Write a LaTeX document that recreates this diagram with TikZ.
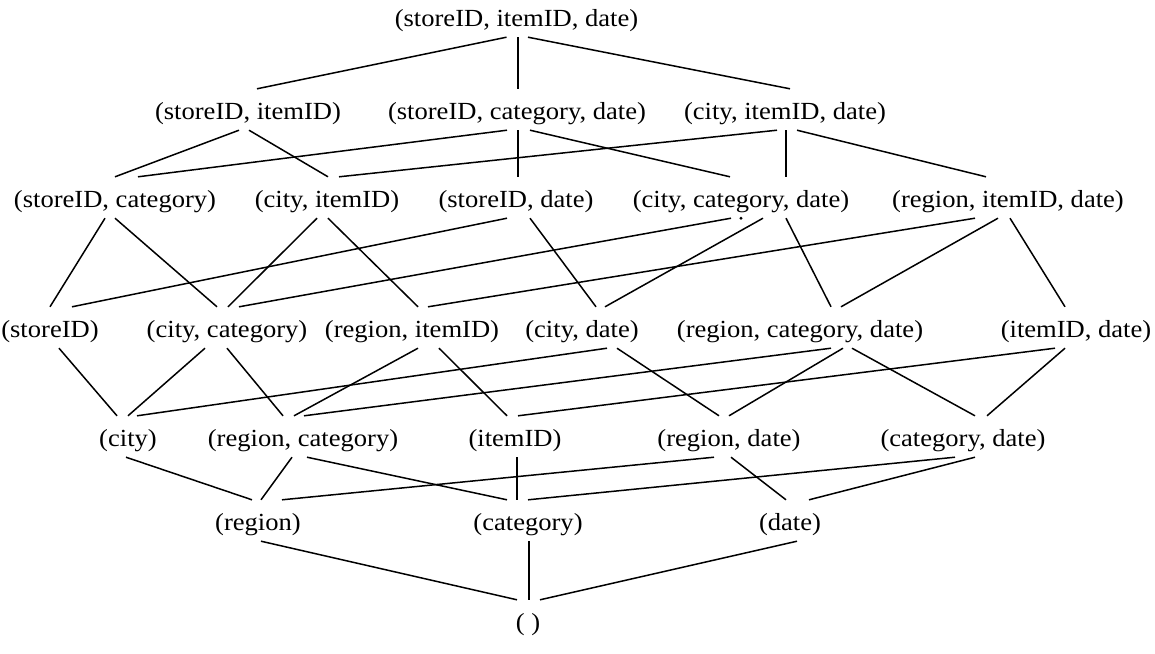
\documentclass[tikz,border=0pt]{standalone}
\usepackage{fontspec}
\setmainfont{Liberation Serif}[FakeStretch=1.08]
\begin{document}
\begin{tikzpicture}[x=1pt,y=-1pt,
  cube/.style={inner sep=0pt, anchor=base, text height=30pt, text depth=11pt,
    font=\fontsize{24.6}{28}\selectfont},
  link/.style={line width=1.5pt}]
\useasboundingbox (0,0) rectangle (1155,653);

% apex cuboid
\node[cube] (sid) at (516.5,26) {(storeID, itemID, date)};
% 2-D cuboids
\node[cube] (si)  at (248,119) {(storeID, itemID)};
\node[cube] (scd) at (517,119) {(storeID, category, date)};
\node[cube] (cid) at (785,119) {(city, itemID, date)};
% next level
\node[cube] (sc)  at (115,207) {(storeID, category)};
\node[cube] (ci)  at (327,207) {(city, itemID)};
\node[cube] (sd)  at (516,207) {(storeID, date)};
\node[cube] (ccd) at (741,207) {(city, category, date)};
\node[cube] (rid) at (1008,207) {(region, itemID, date)};
% middle level
\node[cube] (s)   at (50,337) {(storeID)};
\node[cube] (cc)  at (227,337) {(city, category)};
\node[cube] (ri)  at (412,337) {(region, itemID)};
\node[cube] (cd)  at (582,337) {(city, date)};
\node[cube] (rcd) at (800,337) {(region, category, date)};
\node[cube] (id)  at (1076,337) {(itemID, date)};
% lower level
\node[cube] (c)   at (128,446) {(city)};
\node[cube] (rc)  at (303,446) {(region, category)};
\node[cube] (i)   at (515,446) {(itemID)};
\node[cube] (rd)  at (729,446) {(region, date)};
\node[cube] (cad) at (963,446) {(category, date)};
% 1-D cuboids
\node[cube] (r)   at (258,530) {(region)};
\node[cube] (ca)  at (528,530) {(category)};
\node[cube] (d)   at (790,530) {(date)};
% base cuboid
\node[cube] (e)   at (528,630) {( )};

\newcommand\cuboidlink[4]{\draw[link] ([xshift=#2pt]#1.south) -- ([xshift=#4pt]#3.north);}

\cuboidlink{sid}{-10}{si}{9}
\cuboidlink{sid}{1.5}{scd}{1}
\cuboidlink{sid}{11.5}{cid}{5}

\cuboidlink{si}{-9}{sc}{0}
\cuboidlink{si}{1}{ci}{1}
\cuboidlink{scd}{-10}{sc}{23}
\cuboidlink{scd}{1}{sd}{2}
\cuboidlink{scd}{13}{ccd}{-11}
\cuboidlink{cid}{-8}{ci}{12}
\cuboidlink{cid}{1}{ccd}{45}
\cuboidlink{cid}{12}{rid}{-22}

\cuboidlink{sc}{-10}{s}{0}
\cuboidlink{sc}{0}{cc}{-10}
\cuboidlink{ci}{-10}{cc}{1}
\cuboidlink{ci}{1}{ri}{6}
\cuboidlink{sd}{-9}{s}{22}
\cuboidlink{sd}{14}{cd}{14}
\cuboidlink{ccd}{-10}{cc}{12}
\cuboidlink{ccd}{22}{cd}{23}
\cuboidlink{ccd}{45}{rcd}{31}
\cuboidlink{rid}{-33}{ri}{16}
\cuboidlink{rid}{-10}{rcd}{41}
\cuboidlink{rid}{2}{id}{-11}

\cuboidlink{s}{9}{c}{-11}
\cuboidlink{cc}{-22}{c}{0}
\cuboidlink{cc}{0}{rc}{-20}
\cuboidlink{ri}{6}{rc}{-9}
\cuboidlink{ri}{27}{i}{-8}
\cuboidlink{cd}{25}{c}{9}
\cuboidlink{cd}{35}{rd}{-10}
\cuboidlink{rcd}{31}{rc}{1}
\cuboidlink{rcd}{43}{rd}{0}
\cuboidlink{rcd}{52}{cad}{12}
\cuboidlink{id}{-21}{i}{3}
\cuboidlink{id}{-11}{cad}{24}

\cuboidlink{c}{-2}{r}{-6}
\cuboidlink{rc}{-11}{r}{3}
\cuboidlink{rc}{4}{ca}{-21}
\cuboidlink{i}{2}{ca}{-11}
\cuboidlink{rd}{-15}{r}{24}
\cuboidlink{rd}{2}{d}{-4}
\cuboidlink{cad}{-8}{ca}{0}
\cuboidlink{cad}{12}{d}{19}

\cuboidlink{r}{3}{e}{-11}
\cuboidlink{ca}{1}{e}{1}
\cuboidlink{d}{7}{e}{12}

% small mark below (city, category, date)
\fill (ccd.south) circle (1.6pt);
\end{tikzpicture}
\end{document}
